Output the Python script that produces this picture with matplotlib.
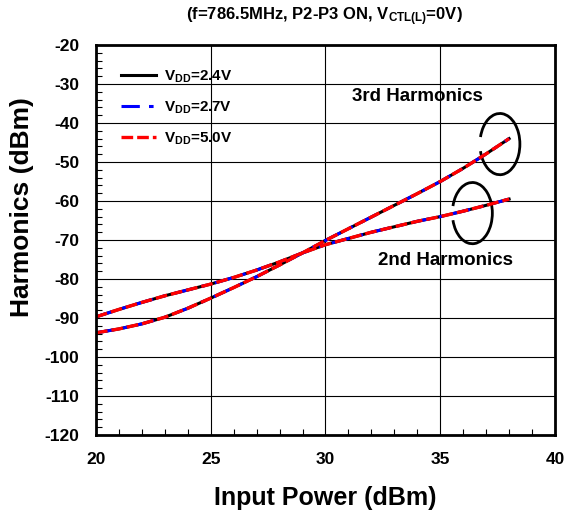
import numpy as np
import matplotlib
matplotlib.use("Agg")
import matplotlib.pyplot as plt
from matplotlib.patches import Arc
from matplotlib.ticker import MultipleLocator

plt.rcParams['font.family'] = ['Liberation Sans', 'DejaVu Sans']
plt.rcParams['axes.unicode_minus'] = False
plt.rcParams['mathtext.fontset'] = 'custom'
plt.rcParams['mathtext.bf'] = 'Liberation Sans:bold'
plt.rcParams['mathtext.rm'] = 'Liberation Sans'

# input power sweep (dBm)
pin = [20, 21, 22, 23, 24, 25, 26, 27, 28, 29, 30, 31, 32, 33, 34, 35, 36, 37, 38]

# 2nd / 3rd harmonics (dBm), the three VDD curves lie on top of each other
h2_24 = [-89.7, -87.8, -86.0, -84.3, -82.8, -81.3, -79.6, -77.7, -75.6, -73.3,
         -71.2, -69.6, -68.0, -66.6, -65.2, -64.0, -62.6, -61.1, -59.5]
h3_24 = [-93.8, -92.8, -91.5, -89.8, -87.5, -84.9, -82.2, -79.4, -76.4, -73.3,
         -70.1, -67.1, -64.1, -61.1, -58.1, -55.0, -51.6, -47.9, -44.0]
h2_27 = list(h2_24)
h3_27 = list(h3_24)
h2_50 = list(h2_24)
h3_50 = list(h3_24)

labels = ["$\\mathbf{V_{DD}}$=2.4V", "$\\mathbf{V_{DD}}$=2.7V", "$\\mathbf{V_{DD}}$=5.0V"]

fig = plt.figure(figsize=(5.74, 5.12), dpi=100)
ax = fig.add_axes([0.1672, 0.1504, 0.7997, 0.7616])

l1, = ax.plot(pin, h2_24, color="black", lw=2.2, ls="-")
ax.plot(pin, h3_24, color="black", lw=2.2, ls="-")
l2, = ax.plot(pin, h2_27, color="blue", lw=2.2, ls=(0, (6, 3, 1.5, 3)))
ax.plot(pin, h3_27, color="blue", lw=2.2, ls=(0, (6, 3, 1.5, 3)))
l3, = ax.plot(pin, h2_50, color="red", lw=2.4, ls=(0, (3.5, 1.2)))
ax.plot(pin, h3_50, color="red", lw=2.4, ls=(0, (3.5, 1.2)))

ax.set_xlim(20, 40)
ax.set_ylim(-120, -20)
ax.xaxis.set_major_locator(MultipleLocator(5))
ax.xaxis.set_minor_locator(MultipleLocator(1))
ax.yaxis.set_major_locator(MultipleLocator(10))
ax.yaxis.set_minor_locator(MultipleLocator(2))
ax.tick_params(which="both", direction="in", top=False, right=False)
ax.tick_params(which="major", length=0, pad=12, labelsize=12.5)
ax.tick_params(which="minor", length=4, width=0.8)
for t in ax.get_xticklabels() + ax.get_yticklabels():
    t.set_fontweight("bold")
ax.grid(True, which="major", color="black", lw=0.8)
for s in ax.spines.values():
    s.set_linewidth(2)

ax.set_xlabel("Input Power (dBm)", fontsize=18, fontweight="bold", labelpad=14)
ax.set_ylabel("Harmonics (dBm)", fontsize=19, fontweight="bold")
ax.yaxis.set_label_coords(-0.135, 0.585)

fig.text(0.565, 0.968, "(f=786.5MHz, P2-P3 ON, $\\mathbf{V_{CTL(L)}}$=0V)",
         ha="center", va="center", fontsize=12, fontweight="bold")

leg = ax.legend([l1, l2, l3], labels, loc="upper left", bbox_to_anchor=(0.025, 0.975),
                frameon=False, handlelength=2.3, handletextpad=0.5, labelspacing=0.95,
                prop={"size": 11, "weight": "bold"})

ax.text(34.0, -33.2, "3rd Harmonics", ha="center", va="center", fontsize=13.5,
        fontweight="bold")
ax.text(35.25, -75.3, "2nd Harmonics", ha="center", va="center", fontsize=13.5,
        fontweight="bold")
ax.add_patch(Arc((37.6, -45.4), 1.74, 15.7, theta1=-115, theta2=115, color="black", lw=2))
ax.add_patch(Arc((36.4, -63.1), 1.74, 15.7, theta1=-115, theta2=115, color="black", lw=2))

fig.savefig("out.png", dpi=100)
